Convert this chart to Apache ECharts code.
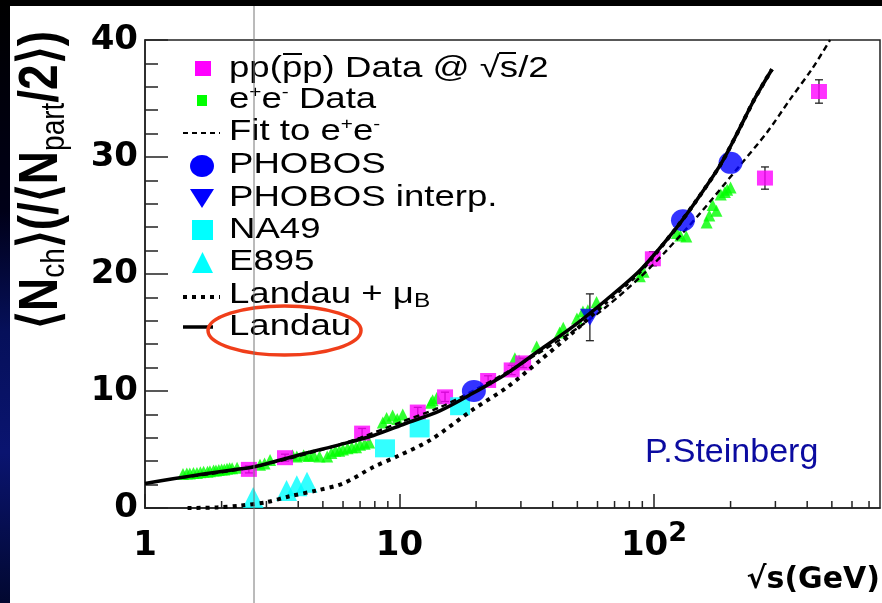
<!DOCTYPE html>
<html><head><meta charset="utf-8">
<script src="https://cdn.jsdelivr.net/npm/echarts@6/dist/echarts.min.js"></script>
<style>html,body{margin:0;padding:0;background:#fff;}#c{width:882px;height:603px;}</style>
</head><body><div id="c"></div>
<script>
// ---- data ----
const ppX = [2.56, 3.55, 7.13, 11.8, 15.1, 22.3, 27.6, 30.6, 99, 273, 445];
const ppY = [3.3, 4.3, 6.4, 8.2, 9.5, 10.9, 11.8, 12.4, 21.3, 28.2, 35.6];
const ppErr = [0.3, 0.3, 0.4, 0.4, 0.4, 0.4, 0.4, 0.4, 0.6, 0.95, 1.0];

const eeX = [1.41, 1.46, 1.5, 1.55, 1.6, 1.65, 1.7, 1.76, 1.8, 1.86, 1.9, 1.95, 2.0, 2.05, 2.1, 2.15, 2.2, 2.3, 2.83, 2.95, 3.1, 3.8, 3.95, 4.2, 4.4, 4.6, 4.85, 5.2, 5.4, 5.6, 5.8, 6.0, 6.25, 6.5, 6.75, 7.0, 7.3, 7.6, 8.6, 8.9, 9.4, 9.8, 10.3, 13.3, 13.5, 14.0, 28.4, 29.5, 34.6, 42.6, 44, 49.8, 52.6, 55, 59.5, 88, 91, 123, 127, 134, 161, 165, 170, 176, 183, 190, 194, 200];
const eeY = [2.9, 2.95, 2.95, 3.0, 3.0, 3.05, 3.1, 3.1, 3.15, 3.2, 3.2, 3.25, 3.3, 3.3, 3.35, 3.4, 3.4, 3.45, 3.7, 3.8, 4.1, 4.5, 4.4, 4.5, 4.45, 4.5, 4.4, 4.4, 4.7, 4.9, 4.9, 5.0, 5.1, 5.2, 5.2, 5.4, 5.5, 5.6, 7.3, 7.7, 7.9, 7.6, 8.0, 9.0, 9.2, 9.4, 12.8, 12.6, 13.8, 15.0, 15.4, 16.2, 16.8, 16.9, 17.6, 19.8, 20.2, 23.5, 23.3, 23.2, 24.4, 25.0, 25.9, 25.4, 26.8, 27.0, 27.2, 27.4];

const phobosX = [19.6, 130, 200];
const phobosY = [10.0, 24.6, 29.5];
const phobosIntX = [56];
const phobosIntY = [16.3];
const phobosIntErr = [2.0];
const na49X = [8.77, 12.0, 17.3];
const na49Y = [5.1, 6.8, 8.7];
const e895X = [2.66, 3.6, 3.95, 4.33];
const e895Y = [0.9, 1.5, 1.9, 2.2];

const fitX = [1.4, 1.8, 2.5, 3.5, 5, 7, 10, 14.4, 19.4, 26.4, 35.6, 48, 65, 88, 112, 152, 218, 278, 342, 420, 492];
const fitY = [2.6, 2.9, 3.4, 4.1, 5.0, 6.0, 7.3, 8.6, 10.0, 11.6, 13.3, 15.1, 17.2, 19.7, 22.0, 25.2, 29.3, 32.1, 34.9, 37.6, 40];

const landauX = [1, 1.29, 1.7, 2.2, 2.66, 3.4, 4.3, 5.8, 7.9, 10.5, 14.4, 19.4, 26.4, 35.6, 48, 65, 88, 119, 146, 182, 212, 249, 291];
const landauY = [2.1, 2.5, 2.9, 3.25, 3.5, 4.1, 4.7, 5.4, 6.2, 7.2, 8.3, 9.8, 11.5, 13.5, 15.5, 17.8, 20.3, 23.6, 26.2, 29.3, 32.0, 35.0, 37.5];

const landauMuX = [1.47, 1.92, 2.36, 3.0, 3.7, 4.74, 6.0, 7.9, 10, 13.2, 19.4, 26.4, 35.6, 48, 65, 88, 119, 146, 182, 212, 249, 291];
const landauMuY = [0, 0.05, 0.2, 0.5, 1.0, 1.5, 2.1, 3.5, 4.5, 5.8, 8.4, 10.3, 12.6, 15.0, 17.6, 20.2, 23.6, 26.2, 29.3, 32.0, 35.0, 37.5];

const yTicks = [0, 10, 20, 30, 40];
const xMajorTicks = [1, 10, 100];
const xTickLabels = ['{b|1}', '{b|10}', '{b|10}{s|2}'];
const xMinorTicks = [2,3,4,5,6,7,8,9,20,30,40,50,60,70,80,90,200,300,400,500,600,700];
const legendLabels = [
  '{t|pp(pp) Data @ √s/2}',
  '{t|e}{p|+}{t|e}{p|-}{t| Data}',
  '{t|Fit to e}{p|+}{t|e}{p|-}',
  '{t|PHOBOS}',
  '{t|PHOBOS interp.}',
  '{t|NA49}',
  '{t|E895}',
  '{t|Landau + μ}{u|B}',
  '{t|Landau}'
];

const zip = (a, b, c) => a.map((v, i) => c ? [v, b[i], c[i]] : [v, b[i]]);

const chart = echarts.init(document.getElementById('c'), null, {renderer: 'canvas'});
const axisCol = '#222';
const near = (v, t) => Math.abs(v - t) < 1e-6 * t;

const errRender = (params, api) => {
  const x = api.value(0), y = api.value(1), e = api.value(2);
  const hi = api.coord([x, y + e]), lo = api.coord([x, y - e]);
  const w = 4, st = {stroke: '#222', lineWidth: 1.3};
  return {type: 'group', children: [
    {type: 'line', shape: {x1: hi[0], y1: hi[1], x2: lo[0], y2: lo[1]}, style: st},
    {type: 'line', shape: {x1: hi[0] - w, y1: hi[1], x2: hi[0] + w, y2: hi[1]}, style: st},
    {type: 'line', shape: {x1: lo[0] - w, y1: lo[1], x2: lo[0] + w, y2: lo[1]}, style: st}
  ]};
};

// legend geometry
const TX = 229, rowY = [69, 100, 132, 165, 198, 230, 262, 295, 327];
const legendGraphics = [];
legendLabels.forEach((txt, i) => {
  legendGraphics.push({
    type: 'text', x: TX, y: rowY[i], scaleX: 1.22, z: 100,
    style: {text: txt, x: 0, y: 0, align: 'left', verticalAlign: 'middle',
      rich: {
        t: {fontFamily: 'Liberation Sans, Arial', fontSize: 30, color: '#000', lineHeight: 32},
        p: {fontFamily: 'Liberation Sans, Arial', fontSize: 17, color: '#000', lineHeight: 8, verticalAlign: 'top'},
        u: {fontFamily: 'Liberation Sans, Arial', fontSize: 20, color: '#000', lineHeight: 6, verticalAlign: 'bottom'}
      }}
  });
});
legendGraphics.push(
  {type: 'line', z: 100, shape: {x1: 283, y1: 54, x2: 302, y2: 54}, style: {stroke: '#000', lineWidth: 2}},
  {type: 'line', z: 100, shape: {x1: 499, y1: 53, x2: 516, y2: 53}, style: {stroke: '#000', lineWidth: 2}},
  {type: 'rect', z: 100, shape: {x: 195, y: 61, width: 16, height: 15}, style: {fill: '#ff00ff'}},
  {type: 'rect', z: 100, shape: {x: 197, y: 95, width: 10, height: 11}, style: {fill: '#00ff00'}},
  {type: 'line', z: 100, shape: {x1: 183, y1: 133, x2: 220, y2: 133}, style: {stroke: '#000', lineWidth: 2.2, lineDash: [5, 4]}},
  {type: 'ellipse', z: 100, shape: {cx: 202, cy: 166, rx: 12, ry: 11}, style: {fill: '#0000ff'}},
  {type: 'polygon', z: 100, shape: {points: [[190, 189], [214, 189], [202, 208]]}, style: {fill: '#0000ff'}},
  {type: 'rect', z: 100, shape: {x: 192, y: 220, width: 21, height: 20}, style: {fill: '#00ffff'}},
  {type: 'polygon', z: 100, shape: {points: [[192, 273], [213, 273], [202.5, 252]]}, style: {fill: '#00ffff'}},
  {type: 'line', z: 100, shape: {x1: 183, y1: 297, x2: 220, y2: 297}, style: {stroke: '#000', lineWidth: 4, lineDash: [4, 5]}},
  {type: 'line', z: 100, shape: {x1: 183, y1: 327, x2: 213, y2: 327}, style: {stroke: '#000', lineWidth: 3.5}},
  {type: 'ellipse', z: 101, shape: {cx: 284.5, cy: 330.5, rx: 76.5, ry: 24.5}, style: {fill: 'none', stroke: '#f03e1a', lineWidth: 3.5}}
);

const option = {
  backgroundColor: '#ffffff',
  animation: false,
  grid: {left: 145, right: 2, top: 40, bottom: 95, show: true, borderColor: axisCol, borderWidth: 1.5, backgroundColor: 'transparent'},
  xAxis: {
    type: 'log', logBase: 10, min: 1, max: 773,
    axisLine: {lineStyle: {color: axisCol, width: 1.5}},
    axisTick: {inside: true, length: 14, lineStyle: {color: axisCol, width: 1.5}},
    splitLine: {show: false},
    axisLabel: {
      margin: 12, showMaxLabel: false, color: '#000',
      fontFamily: 'DejaVu Sans', fontWeight: 'bold', fontSize: 34,
      formatter: v => {
        const i = xMajorTicks.findIndex(t => near(v, t));
        return i >= 0 ? xTickLabels[i] : '';
      },
      rich: {
        b: {fontFamily: 'DejaVu Sans', fontWeight: 'bold', fontSize: 34, color: '#000', lineHeight: 52},
        s: {fontFamily: 'DejaVu Sans', fontWeight: 'bold', fontSize: 27, color: '#000', lineHeight: 27, padding: [0, 0, 25, 0]}
      }
    }
  },
  yAxis: {
    type: 'value', min: yTicks[0], max: yTicks[yTicks.length - 1], interval: 10,
    axisLine: {show: true, lineStyle: {color: axisCol, width: 1.5}},
    axisTick: {show: true, inside: true, length: 23, lineStyle: {color: axisCol, width: 1.5}},
    minorTick: {show: true, splitNumber: 5, length: 13, lineStyle: {color: axisCol, width: 1.5}},
    splitLine: {show: false},
    axisLabel: {margin: 7, color: '#000', fontFamily: 'DejaVu Sans', fontWeight: 'bold', fontSize: 34}
  },
  series: [
    {type: 'custom', name: 'xminor', silent: true, z: 3, renderItem: (params, api) => {
      const p = api.coord([api.value(0), 0]);
      return {type: 'line', shape: {x1: p[0], y1: p[1], x2: p[0], y2: p[1] - 7}, style: {stroke: axisCol, lineWidth: 1.5}};
    }, data: xMinorTicks.map(v => [v, 0])},
    {type: 'scatter', name: 'e+e- Data', symbol: 'triangle', symbolSize: 12, itemStyle: {color: '#00ff00'}, z: 2, data: zip(eeX, eeY)},
    {type: 'custom', name: 'pp err', silent: true, z: 3, renderItem: errRender, data: zip(ppX, ppY, ppErr)},
    {type: 'custom', name: 'int err', silent: true, z: 3, renderItem: errRender, data: zip(phobosIntX, phobosIntY, phobosIntErr)},
    {type: 'scatter', name: 'pp', symbol: 'rect', symbolSize: [16, 15], itemStyle: {color: '#ff00ff'}, z: 4, data: zip(ppX, ppY)},
    {type: 'scatter', name: 'NA49', symbol: 'rect', symbolSize: [20, 18], itemStyle: {color: '#00ffff'}, z: 4, data: zip(na49X, na49Y)},
    {type: 'scatter', name: 'E895', symbol: 'triangle', symbolSize: [21, 21], itemStyle: {color: '#00ffff'}, z: 4, data: zip(e895X, e895Y)},
    {type: 'line', name: 'Fit', symbol: 'none', smooth: 0.3, z: 5, lineStyle: {color: '#000', width: 2.4, type: [6, 4]}, data: zip(fitX, fitY)},
    {type: 'scatter', name: 'PHOBOS', symbol: 'circle', symbolSize: [24, 22], itemStyle: {color: '#0000ff'}, z: 6, data: zip(phobosX, phobosY)},
    {type: 'scatter', name: 'PHOBOS interp', symbol: 'triangle', symbolRotate: 180, symbolSize: [20, 17], itemStyle: {color: '#0000ff'}, z: 6, data: zip(phobosIntX, phobosIntY)},
    {type: 'line', name: 'Landau', symbol: 'none', smooth: 0.3, z: 7, lineStyle: {color: '#000', width: 3.5}, data: zip(landauX, landauY)},
    {type: 'line', name: 'Landau+muB', symbol: 'none', smooth: 0.3, z: 8, lineStyle: {color: '#000', width: 4, type: [4, 5]}, data: zip(landauMuX, landauMuY)}
  ],
  graphic: [
    {type: 'rect', z: 200, shape: {x: 0, y: 0, width: 882, height: 6}, style: {fill: '#000'}},
    {type: 'rect', z: 200, shape: {x: 0, y: 0, width: 10, height: 603},
      style: {fill: new echarts.graphic.LinearGradient(0, 0, 0, 1, [
        {offset: 0, color: '#000000'}, {offset: 0.35, color: '#000018'},
        {offset: 0.55, color: '#06105a'}, {offset: 0.75, color: '#0a1470'}, {offset: 1, color: '#020830'}])}},
    {type: 'line', z: 150, shape: {x1: 254, y1: 6, x2: 254, y2: 603}, style: {stroke: '#777', lineWidth: 1}},
    {type: 'text', z: 100, x: 42, y: 180, rotation: Math.PI / 2, scaleY: 1.2,
      style: {text: '{b|⟨N}{s|ch}{b|⟩(/⟨N}{s|part}{b|/2⟩)}', x: 0, y: 0, align: 'center', verticalAlign: 'middle',
        rich: {
          b: {fontFamily: 'Liberation Sans, Arial', fontWeight: 'bold', fontSize: 46, color: '#000', lineHeight: 50},
          s: {fontFamily: 'Liberation Sans, Arial', fontSize: 28, color: '#000', lineHeight: 8, verticalAlign: 'bottom'}
        }}},
    {type: 'text', z: 100, x: 880, y: 580,
      style: {text: '√s(GeV)', x: 0, y: 0, align: 'right', verticalAlign: 'middle', fontFamily: 'DejaVu Sans', fontWeight: 'bold', fontSize: 30, fill: '#000'}},
    {type: 'text', z: 100, x: 645, y: 453,
      style: {text: 'P.Steinberg', x: 0, y: 0, align: 'left', verticalAlign: 'middle', fontFamily: 'Liberation Sans, Arial', fontSize: 34, fill: '#0b0ba0'}},
    ...legendGraphics
  ]
};
chart.setOption(option);
</script>
</body></html>
